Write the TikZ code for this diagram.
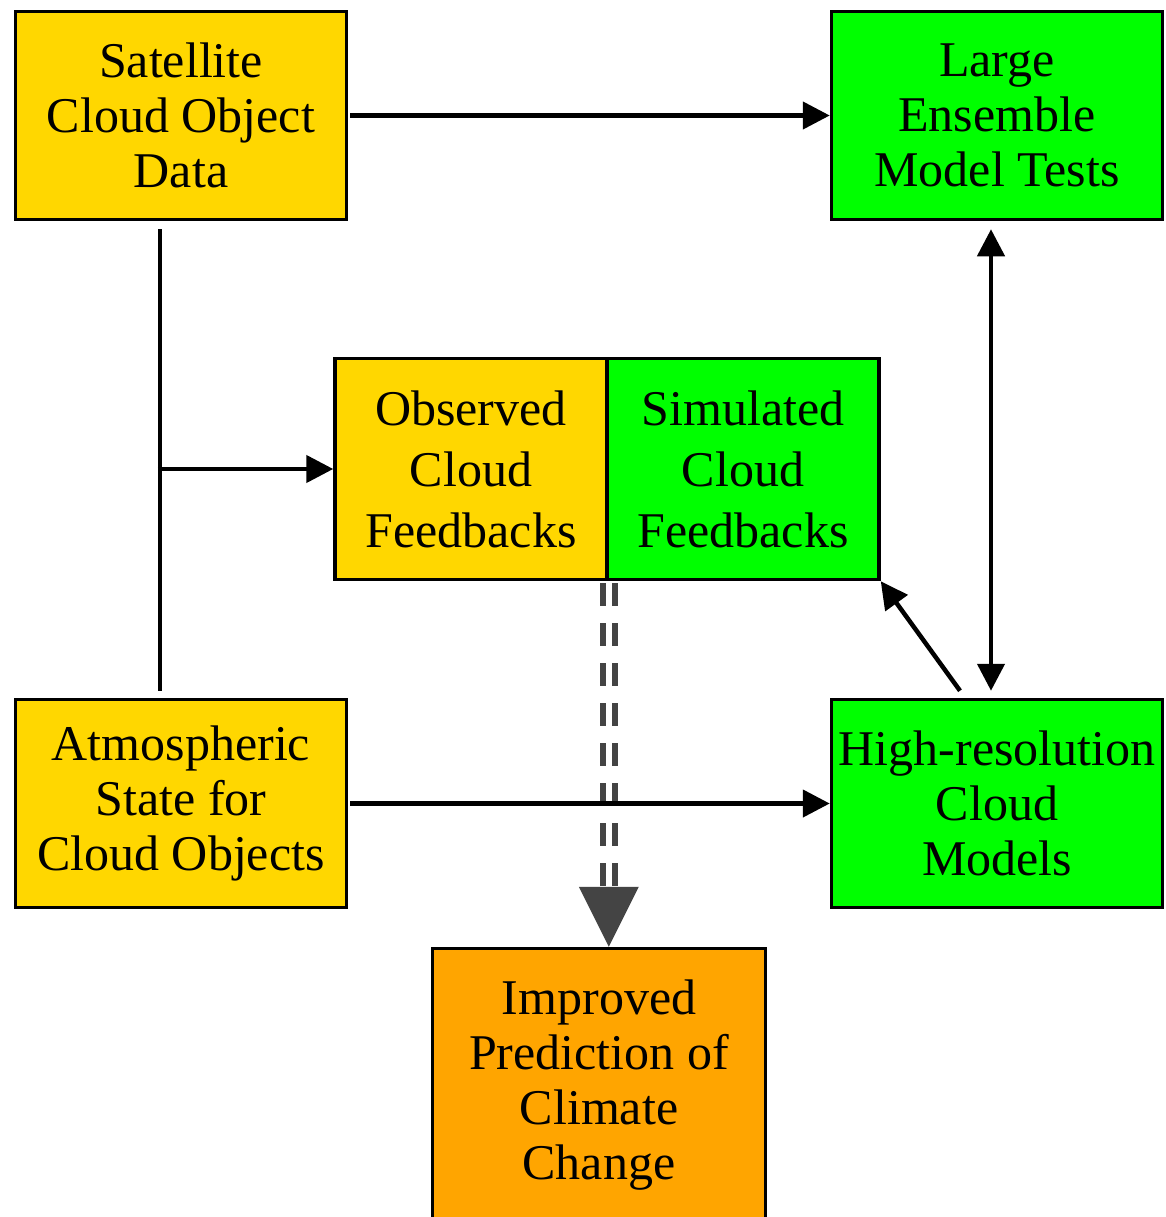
\documentclass[tikz,border=0pt]{standalone}
\usepackage{fontspec}
\setmainfont{Liberation Serif}
\usetikzlibrary{arrows.meta}
\definecolor{boxgold}{HTML}{FFD700}
\definecolor{boxgreen}{HTML}{00FF00}
\definecolor{boxorange}{HTML}{FFA500}
\definecolor{darkgrey}{HTML}{444444}
\begin{document}
\begin{tikzpicture}[x=1pt,y=-1pt,
  box/.style={draw=black, line width=3.5pt, rectangle, align=center, inner sep=0pt,
    font=\fontsize{50}{55}\selectfont},
  widebox/.style={box, minimum width=331pt, minimum height=208pt},
  halfbox/.style={box, minimum width=272pt, minimum height=221pt,
    font=\fontsize{50}{61}\selectfont},
  link/.style={line width=4.5pt, -{Triangle[length=27pt,width=27pt]}},
  twoway/.style={line width=4.5pt, {Triangle[length=27pt,width=27pt]}-{Triangle[length=27pt,width=27pt]}},
  plainline/.style={line width=4.5pt},
  dashpair/.style={draw=darkgrey, line width=6pt, double=white, double distance=6pt,
    dash pattern=on 23pt off 17pt},
]
\clip (0,0) rectangle (1165,1217);
\fill[white] (0,0) rectangle (1165,1217);

% boxes
\node[widebox, fill=boxgold]  (sat) at (181,115.5) {Satellite\\Cloud Object\\Data};
\node[widebox, fill=boxgreen] (ens) at (997,115.5) {Large\\Ensemble\\Model Tests};
\node[halfbox, fill=boxgold]  (obs) at (471,469) {Observed\\Cloud\\Feedbacks};
\node[halfbox, fill=boxgreen] (sim) at (743,469) {Simulated\\Cloud\\Feedbacks};
\node[widebox, fill=boxgold]  (atm) at (181,803.5) {Atmospheric\\State for\\Cloud Objects};
\node[widebox, fill=boxgreen] (hrm) at (997,803.5) {High-resolution\\Cloud\\Models};
\node[box, fill=boxorange, minimum width=333pt, minimum height=273pt] (imp) at (599,1085)
  {Improved\\Prediction of\\Climate\\Change};

% dashed double connector to the outcome box
\coordinate (tip) at (obs.south east |- imp.north);
\draw[dashpair] ([yshift=-2pt]obs.south east) -- ([yshift=60pt]tip);
\fill[darkgrey] ([shift={(-30,-60)}]tip) -- ([shift={(30,-60)}]tip) -- (tip) -- cycle;

% solid connectors
\draw[link] ([xshift=2pt]sat.east) -- (ens.west);
\draw[link] ([xshift=2pt]atm.east) -- (hrm.west);

\coordinate (top) at ([shift={(-21,8)}]sat.south);
\coordinate (bot) at ([shift={(-21,-7)}]atm.north);
\draw[plainline] (top) -- (bot);
\coordinate (join) at (top |- obs.west);
\draw[link] ([xshift=-2.25pt]join) -- (obs.west);

\draw[twoway] ([shift={(-6,8)}]ens.south) -- ([shift={(-6,-7)}]hrm.north);
\draw[link] ([shift={(-37,-7)}]hrm.north) -- (sim.south east);
\end{tikzpicture}
\end{document}
